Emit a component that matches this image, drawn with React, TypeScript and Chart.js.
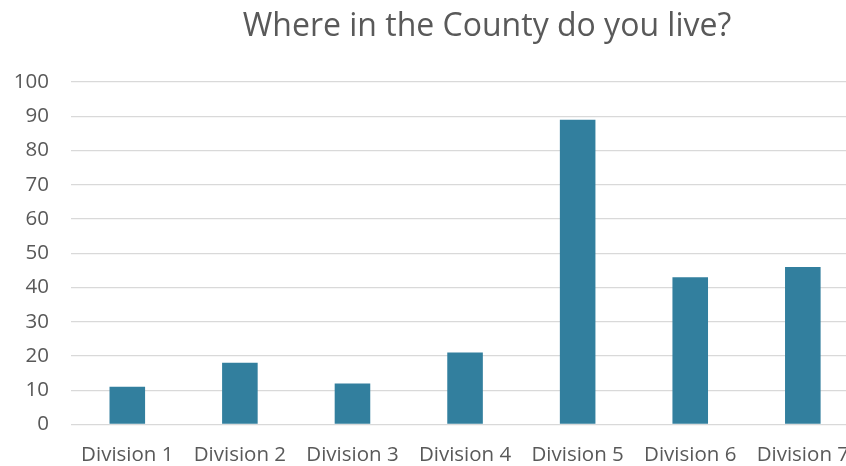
import React, { useEffect, useRef } from "react";
import { Chart, registerables } from "chart.js";

Chart.register(...registerables);

const categories = [
  "Division 1",
  "Division 2",
  "Division 3",
  "Division 4",
  "Division 5",
  "Division 6",
  "Division 7",
];
const responses = [11, 18, 12, 21, 89, 43, 46];
const yTicks = [0, 10, 20, 30, 40, 50, 60, 70, 80, 90, 100];
const titleText = "Where in the County do you live?";

const FONT = "'Open Sans', sans-serif";
const GREY = "#595959";

// Title drawn at a fixed position above the plot
const titlePlugin = {
  id: "countyTitle",
  afterDraw(chart: any) {
    const ctx = chart.ctx;
    ctx.save();
    ctx.font = `32px ${FONT}`;
    ctx.fillStyle = GREY;
    ctx.textAlign = "center";
    ctx.textBaseline = "middle";
    ctx.fillText(titleText, 487, 27);
    ctx.restore();
  },
};

export default function App() {
  const ref = useRef<HTMLCanvasElement>(null);

  useEffect(() => {
    if (!ref.current) return;
    const chart = new Chart(ref.current, {
      type: "bar",
      data: {
        labels: categories,
        datasets: [
          {
            data: responses,
            backgroundColor: "#327F9E",
            borderWidth: 0,
            categoryPercentage: 1,
            barPercentage: 0.316,
          },
        ],
      },
      options: {
        responsive: false,
        animation: false,
        layout: { padding: { top: 82, left: 0, right: 0, bottom: 0 } },
        plugins: {
          legend: { display: false },
          tooltip: { enabled: false },
          title: { display: false },
        },
        scales: {
          x: {
            afterFit(scale: any) {
              scale.height = 41.5;
            },
            grid: { display: false, drawTicks: false },
            border: { display: false },
            ticks: {
              color: GREY,
              font: { family: FONT, size: 20.5 },
              padding: 18,
              maxRotation: 0,
              autoSkip: false,
            },
          },
          y: {
            min: 0,
            max: 100,
            afterBuildTicks(scale: any) {
              scale.ticks = yTicks.map((v) => ({ value: v }));
            },
            afterFit(scale: any) {
              scale.width = 71;
            },
            grid: { color: "#d9d9d9", lineWidth: 1.3, drawTicks: false },
            border: { display: false },
            ticks: {
              color: GREY,
              font: { family: FONT, size: 20.5 },
              padding: 22,
            },
          },
        },
      },
      plugins: [titlePlugin],
    });
    return () => chart.destroy();
  }, []);

  return (
    <div
      style={{
        position: "absolute",
        left: 0,
        top: 0,
        width: 846,
        height: 466,
        overflow: "hidden",
        background: "#fff",
      }}
    >
      <canvas ref={ref} width={867} height={466} style={{ display: "block" }} />
    </div>
  );
}
